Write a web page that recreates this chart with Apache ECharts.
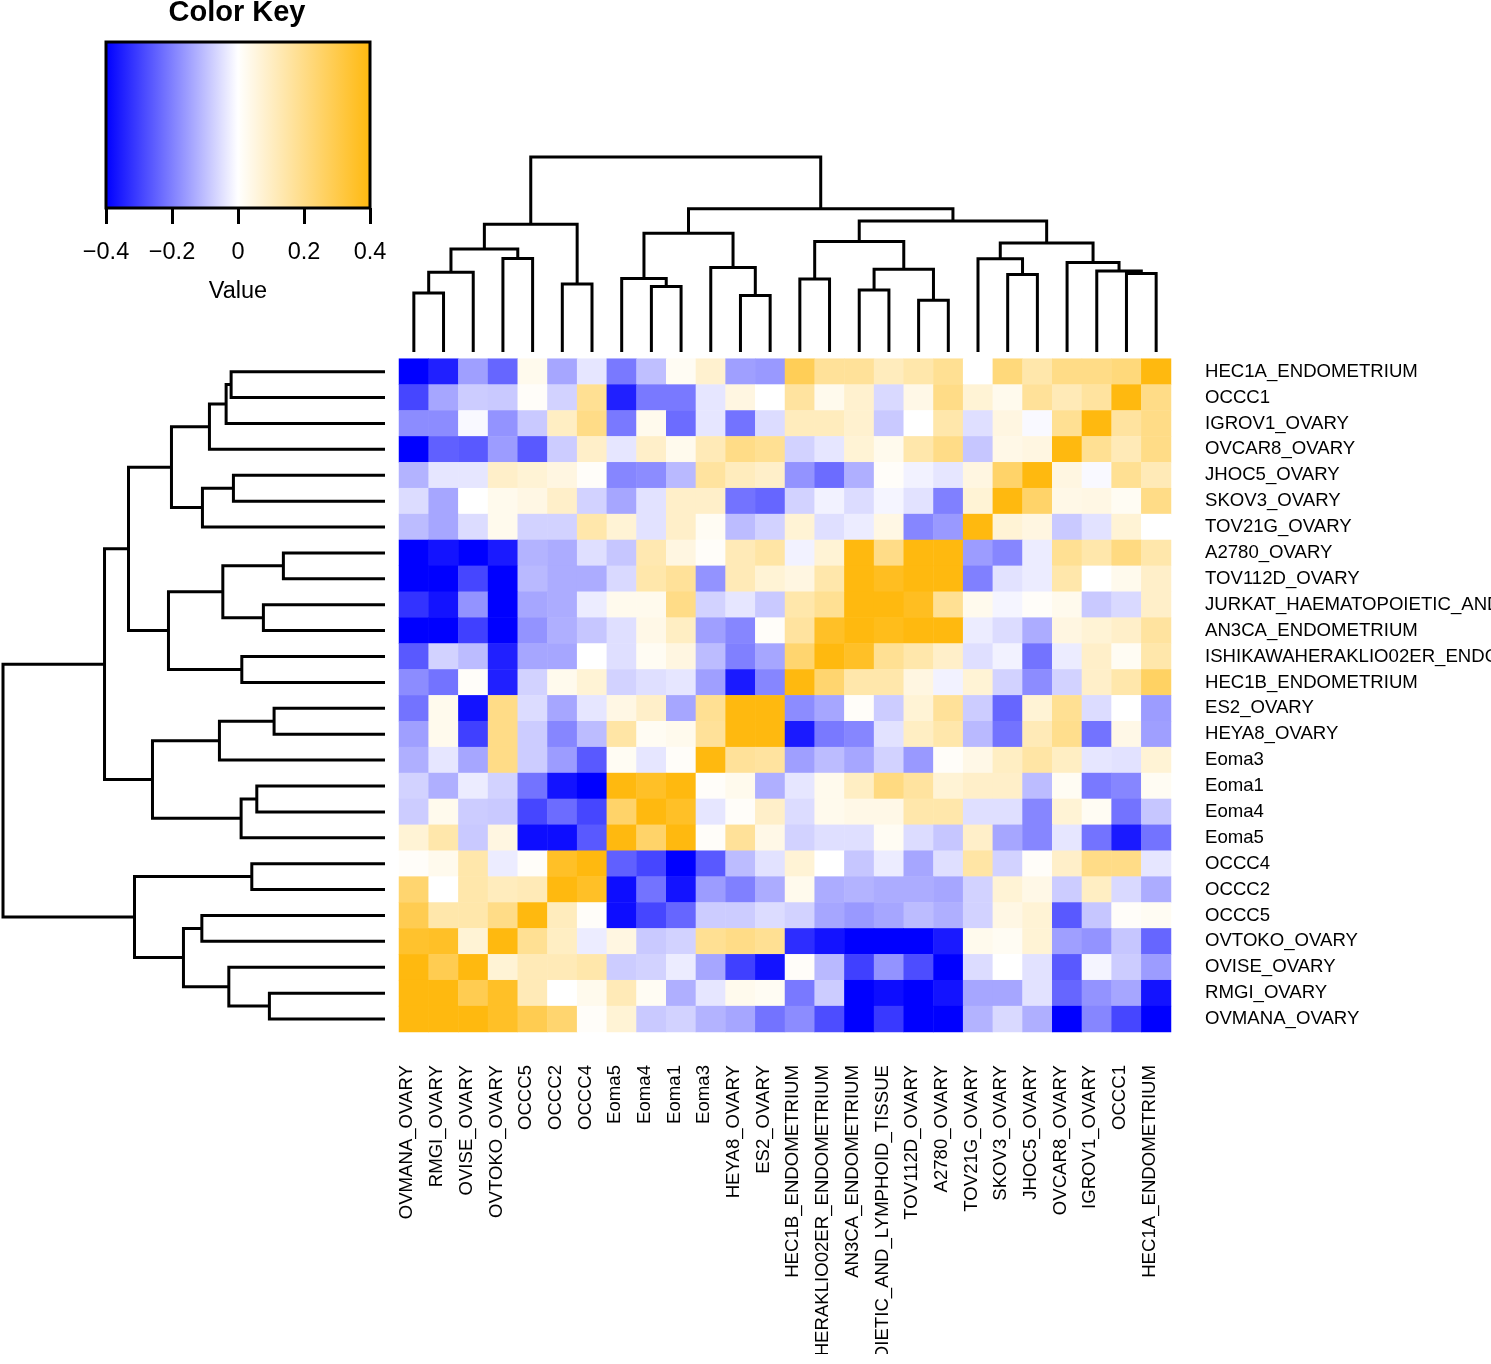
<!DOCTYPE html>
<html><head><meta charset="utf-8">
<script src="https://cdn.jsdelivr.net/npm/echarts@6/dist/echarts.min.js"></script>
<style>html,body{margin:0;padding:0;background:#fff;}#c{width:1491px;height:1354px;}</style>
</head><body><div id="c"></div>
<script>
const FONT = '"Liberation Sans", Arial, Helvetica, sans-serif';

// Row order (top to bottom); columns are the same samples in reverse order
const rowLabels = ['HEC1A_ENDOMETRIUM','OCCC1','IGROV1_OVARY','OVCAR8_OVARY','JHOC5_OVARY','SKOV3_OVARY','TOV21G_OVARY',
  'A2780_OVARY','TOV112D_OVARY','JURKAT_HAEMATOPOIETIC_AND_LYMPHOID_TISSUE','AN3CA_ENDOMETRIUM','ISHIKAWAHERAKLIO02ER_ENDOMETRIUM',
  'HEC1B_ENDOMETRIUM','ES2_OVARY','HEYA8_OVARY','Eoma3','Eoma1','Eoma4','Eoma5','OCCC4','OCCC2','OCCC5','OVTOKO_OVARY',
  'OVISE_OVARY','RMGI_OVARY','OVMANA_OVARY'];
const colLabels = ['OVMANA_OVARY','RMGI_OVARY','OVISE_OVARY','OVTOKO_OVARY','OCCC5','OCCC2','OCCC4','Eoma5','Eoma4','Eoma1',
  'Eoma3','HEYA8_OVARY','ES2_OVARY','HEC1B_ENDOMETRIUM','ISHIKAWAHERAKLIO02ER_ENDOMETRIUM','AN3CA_ENDOMETRIUM',
  'JURKAT_HAEMATOPOIETIC_AND_LYMPHOID_TISSUE','TOV112D_OVARY','A2780_OVARY','TOV21G_OVARY','SKOV3_OVARY','JHOC5_OVARY',
  'OVCAR8_OVARY','IGROV1_OVARY','OCCC1','HEC1A_ENDOMETRIUM'];

// Cell values, one array per row (columns in colLabels order)
const values = [
 [-0.4,-0.35,-0.15,-0.24,0.03,-0.14,-0.04,-0.21,-0.1,0.02,0.08,-0.15,-0.16,0.28,0.17,0.17,0.11,0.14,0.18,0,0.22,0.14,0.2,0.2,0.22,0.4],
 [-0.29,-0.14,-0.08,-0.085,0.01,-0.07,0.18,-0.35,-0.21,-0.21,-0.04,0.05,0,0.16,0.03,0.08,-0.06,0.04,0.2,0.07,0.03,0.17,0.12,0.16,0.4,0.2],
 [-0.18,-0.18,-0.01,-0.17,-0.085,0.1,0.2,-0.21,0.03,-0.23,-0.04,-0.22,-0.055,0.11,0.11,0.08,-0.085,0,0.14,-0.05,0.05,-0.01,0.18,0.4,0.16,0.2],
 [-0.4,-0.25,-0.26,-0.155,-0.26,-0.08,0.09,-0.04,0.09,0.03,0.12,0.2,0.18,-0.07,-0.04,0.07,0.03,0.14,0.2,-0.09,0.04,0.05,0.4,0.18,0.12,0.2],
 [-0.12,-0.04,-0.04,0.09,0.07,0.05,0.01,-0.19,-0.18,-0.11,0.16,0.11,0.09,-0.17,-0.23,-0.125,0.01,-0.02,-0.04,0.05,0.25,0.4,0.05,-0.01,0.18,0.12],
 [-0.055,-0.14,0,0.03,0.045,0.09,-0.07,-0.14,-0.045,0.09,0.09,-0.22,-0.24,-0.07,-0.02,-0.055,-0.015,-0.045,-0.2,0.07,0.4,0.25,0.04,0.045,0.02,0.2],
 [-0.105,-0.14,-0.055,0.03,-0.07,-0.07,0.14,0.07,-0.045,0.09,0.02,-0.105,-0.07,0.07,-0.05,-0.03,0.045,-0.19,-0.16,0.4,0.07,0.05,-0.085,-0.045,0.07,0],
 [-0.4,-0.37,-0.4,-0.36,-0.12,-0.13,-0.05,-0.09,0.13,0.05,0.01,0.12,0.15,-0.02,0.07,0.4,0.2,0.4,0.4,-0.155,-0.19,-0.03,0.18,0.14,0.21,0.14],
 [-0.4,-0.4,-0.29,-0.4,-0.11,-0.13,-0.13,-0.06,0.14,0.17,-0.17,0.12,0.07,0.05,0.14,0.4,0.37,0.4,0.4,-0.2,-0.045,-0.03,0.14,0,0.03,0.09],
 [-0.32,-0.37,-0.17,-0.4,-0.14,-0.13,-0.03,0.03,0.03,0.2,-0.07,-0.04,-0.085,0.14,0.18,0.4,0.4,0.37,0.18,0.03,-0.015,0.01,0.03,-0.085,-0.06,0.09],
 [-0.4,-0.4,-0.3,-0.4,-0.17,-0.125,-0.09,-0.05,0.04,0.1,-0.15,-0.19,0.01,0.16,0.36,0.4,0.38,0.4,0.4,-0.03,-0.055,-0.13,0.05,0.07,0.09,0.16],
 [-0.26,-0.07,-0.105,-0.35,-0.14,-0.14,0,-0.05,0.02,0.05,-0.105,-0.2,-0.14,0.24,0.4,0.36,0.18,0.14,0.09,-0.05,-0.02,-0.22,-0.03,0.09,0.02,0.14],
 [-0.18,-0.22,0.01,-0.35,-0.07,0.03,0.07,-0.07,-0.05,-0.04,-0.15,-0.36,-0.19,0.4,0.24,0.14,0.14,0.05,-0.02,0.07,-0.07,-0.18,-0.07,0.09,0.14,0.26],
 [-0.22,0.03,-0.37,0.2,-0.055,-0.14,-0.04,0.045,0.09,-0.14,0.18,0.4,0.4,-0.18,-0.14,0.01,-0.08,0.07,0.17,-0.08,-0.24,0.07,0.18,-0.055,0,-0.155],
 [-0.15,0.03,-0.3,0.2,-0.08,-0.19,-0.105,0.15,0.02,0.03,0.17,0.4,0.4,-0.36,-0.21,-0.19,-0.045,0.1,0.14,-0.11,-0.22,0.12,0.19,-0.22,0.04,-0.15],
 [-0.125,-0.04,-0.14,0.2,-0.08,-0.155,-0.26,0.02,-0.04,0.01,0.4,0.17,0.16,-0.15,-0.105,-0.14,-0.07,-0.16,0.01,0.04,0.1,0.15,0.1,-0.04,-0.045,0.07],
 [-0.07,-0.125,-0.03,-0.07,-0.22,-0.37,-0.4,0.4,0.36,0.4,0.01,0.03,-0.125,-0.04,0.03,0.1,0.21,0.16,0.07,0.09,0.09,-0.105,0.02,-0.21,-0.19,0.02],
 [-0.08,0.03,-0.08,-0.085,-0.29,-0.23,-0.29,0.25,0.4,0.36,-0.04,0.01,0.09,-0.055,0.03,0.04,0.04,0.14,0.14,-0.05,-0.05,-0.19,0.07,0.02,-0.22,-0.09],
 [0.07,0.14,-0.085,0.05,-0.38,-0.38,-0.26,0.4,0.25,0.4,0.01,0.17,0.04,-0.07,-0.05,-0.05,0.02,-0.055,-0.09,0.09,-0.14,-0.19,-0.04,-0.22,-0.36,-0.22],
 [0.01,0.03,0.14,-0.03,0.01,0.36,0.4,-0.25,-0.29,-0.4,-0.26,-0.105,-0.045,0.07,0,-0.09,-0.03,-0.14,-0.05,0.15,-0.07,0.01,0.09,0.2,0.2,-0.04],
 [0.24,0,0.14,0.11,0.12,0.4,0.36,-0.38,-0.22,-0.37,-0.155,-0.2,-0.13,0.03,-0.13,-0.12,-0.13,-0.13,-0.14,-0.07,0.07,0.04,-0.08,0.1,-0.06,-0.13],
 [0.29,0.14,0.14,0.2,0.4,0.11,0.01,-0.38,-0.29,-0.24,-0.08,-0.08,-0.055,-0.07,-0.14,-0.16,-0.14,-0.105,-0.125,-0.07,0.045,0.07,-0.26,-0.09,0.01,0.02],
 [0.35,0.36,0.07,0.4,0.18,0.1,-0.03,0.05,-0.085,-0.07,0.18,0.2,0.18,-0.33,-0.37,-0.4,-0.4,-0.4,-0.36,0.03,0.02,0.07,-0.15,-0.17,-0.09,-0.24],
 [0.4,0.29,0.4,0.07,0.12,0.12,0.14,-0.08,-0.07,-0.03,-0.14,-0.3,-0.37,0.01,-0.11,-0.3,-0.17,-0.28,-0.4,-0.055,0,-0.045,-0.26,-0.015,-0.08,-0.155],
 [0.4,0.4,0.29,0.36,0.12,0,0.03,0.12,0.02,-0.125,-0.04,0.03,0.02,-0.21,-0.08,-0.4,-0.38,-0.4,-0.37,-0.14,-0.14,-0.045,-0.24,-0.17,-0.14,-0.37],
 [0.4,0.4,0.4,0.36,0.29,0.24,0.01,0.07,-0.085,-0.07,-0.12,-0.14,-0.22,-0.18,-0.28,-0.4,-0.31,-0.4,-0.4,-0.12,-0.06,-0.125,-0.4,-0.19,-0.29,-0.4]
];

// Hierarchical clustering (hclust style): negative = leaf (row index + 1), positive = earlier merge (1-based)
const mergePairs = [
 [-1,-2],[1,-3],[2,-4],[-5,-6],[4,-7],[3,5],[-8,-9],[-10,-11],[7,8],[-12,-13],[9,10],[6,11],
 [-14,-15],[13,-16],[-17,-18],[15,-19],[14,16],[12,17],[-20,-21],[-22,-23],[-25,-26],[-24,21],[20,22],[19,23],[18,24]
];
const mergeHeights = [1.54,1.59,1.757,1.517,1.827,2.137,1.017,1.217,1.623,1.433,2.167,2.567,
 1.11,1.657,1.283,1.44,2.327,2.807,1.333,1.833,1.157,1.563,2.017,2.507,3.823];

const keyRange = [-0.4, 0.4];
const paletteColors = ['#0000FF', '#FFFFFF', '#FFB90F'];

function dendroSegments(leafPos) {
  const pos = [], segs = [];
  const node = id => id < 0 ? {p: leafPos(-id - 1), h: 0} : {p: pos[id - 1], h: mergeHeights[id - 1]};
  mergePairs.forEach((pr, k) => {
    const a = node(pr[0]), b = node(pr[1]);
    pos[k] = (a.p + b.p) / 2;
    segs.push([a.p, a.h, b.p, b.h, mergeHeights[k]]);
  });
  return segs;
}
const nLeaf = rowLabels.length;
const rowSegs = dendroSegments(i => i);
const colSegs = dendroSegments(i => nLeaf - 1 - i);
const maxH = Math.max(...mergeHeights);

const heatData = [];
values.forEach((row, r) => row.forEach((v, c) => heatData.push([c, r, v])));

const HM = {left: 399, top: 358.7, width: 772, height: 673.3};
const lineStyle = {stroke: '#000', lineWidth: 3, fill: null};
const G = {containLabel: false, outerBoundsMode: 'none'};

const chart = echarts.init(document.getElementById('c'), null, {renderer: 'canvas'});
chart.setOption({
  animation: false,
  backgroundColor: '#fff',
  textStyle: {fontFamily: FONT},
  grid: [
    Object.assign({left: HM.left, top: HM.top, width: HM.width, height: HM.height}, G),
    Object.assign({left: 3, top: HM.top, width: 382, height: HM.height}, G),
    Object.assign({left: HM.left, top: 157, width: HM.width, height: 195}, G),
    Object.assign({left: 106, top: 42, width: 264, height: 166, show: true, borderColor: '#000', borderWidth: 3, backgroundColor: 'transparent', z: 5}, G)
  ],
  visualMap: {
    show: false, type: 'continuous', seriesIndex: 0, dimension: 2,
    min: keyRange[0], max: keyRange[1], inRange: {color: paletteColors}
  },
  xAxis: [
    {gridIndex: 0, type: 'category', data: colLabels, position: 'bottom',
     axisLine: {show: false}, axisTick: {show: false}, splitLine: {show: false},
     axisLabel: {interval: 0, rotate: 90, margin: 33, fontSize: 18.6, color: '#000', fontFamily: FONT,
       verticalAlign: 'bottom', lineHeight: 13, hideOverlap: false}},
    {gridIndex: 1, type: 'value', min: 0, max: maxH, inverse: true, show: false},
    {gridIndex: 2, type: 'value', min: -0.5, max: nLeaf - 0.5, show: false},
    {gridIndex: 3, type: 'value', min: keyRange[0], max: keyRange[1], interval: 0.2, position: 'bottom',
     axisLine: {show: false}, splitLine: {show: false},
     axisTick: {show: true, length: 16, lineStyle: {color: '#000', width: 3}},
     axisLabel: {margin: 33, fontSize: 23.5, color: '#000', fontFamily: FONT,
       formatter: v => String(Math.round(v * 10) / 10).replace('-', '\u2212')}}
  ],
  yAxis: [
    {gridIndex: 0, type: 'category', data: rowLabels, inverse: true, position: 'right',
     axisLine: {show: false}, axisTick: {show: false}, splitLine: {show: false},
     axisLabel: {interval: 0, margin: 34, fontSize: 18.6, color: '#000', fontFamily: FONT, hideOverlap: false}},
    {gridIndex: 1, type: 'value', min: -0.5, max: nLeaf - 0.5, inverse: true, show: false},
    {gridIndex: 2, type: 'value', min: 0, max: maxH, show: false},
    {gridIndex: 3, type: 'value', min: 0, max: 1, show: false}
  ],
  series: [
    {type: 'heatmap', xAxisIndex: 0, yAxisIndex: 0, data: heatData, itemStyle: {borderWidth: 0},
     emphasis: {disabled: true}, progressive: 0},
    {type: 'custom', xAxisIndex: 1, yAxisIndex: 1, data: rowSegs, silent: true,
     renderItem: (p, api) => {
       const pA = api.value(0), hA = api.value(1), pB = api.value(2), hB = api.value(3), h = api.value(4);
       return {type: 'polyline', shape: {points: [api.coord([hA, pA]), api.coord([h, pA]), api.coord([h, pB]), api.coord([hB, pB])]}, style: lineStyle};
     }},
    {type: 'custom', xAxisIndex: 2, yAxisIndex: 2, data: colSegs, silent: true,
     renderItem: (p, api) => {
       const pA = api.value(0), hA = api.value(1), pB = api.value(2), hB = api.value(3), h = api.value(4);
       return {type: 'polyline', shape: {points: [api.coord([pA, hA]), api.coord([pA, h]), api.coord([pB, h]), api.coord([pB, hB])]}, style: lineStyle};
     }},
    {type: 'custom', xAxisIndex: 3, yAxisIndex: 3, data: [[keyRange[0], keyRange[1]]], silent: true, z: 1,
     renderItem: (p, api) => {
       const a = api.coord([api.value(0), 1]), b = api.coord([api.value(1), 0]);
       return {type: 'rect', shape: {x: a[0], y: a[1], width: b[0] - a[0], height: b[1] - a[1]},
         style: {fill: {type: 'linear', x: 0, y: 0, x2: 1, y2: 0, colorStops: [
           {offset: 0, color: paletteColors[0]}, {offset: 0.5, color: paletteColors[1]}, {offset: 1, color: paletteColors[2]}]}}};
     }}
  ],
  graphic: [
    {type: 'text', x: 237, y: 13, style: {text: 'Color Key', font: 'bold 29px ' + FONT, fill: '#000', textAlign: 'center', textVerticalAlign: 'middle'}},
    {type: 'text', x: 238, y: 292, style: {text: 'Value', font: '23.5px ' + FONT, fill: '#000', textAlign: 'center', textVerticalAlign: 'middle'}}
  ]
});
</script></body></html>
